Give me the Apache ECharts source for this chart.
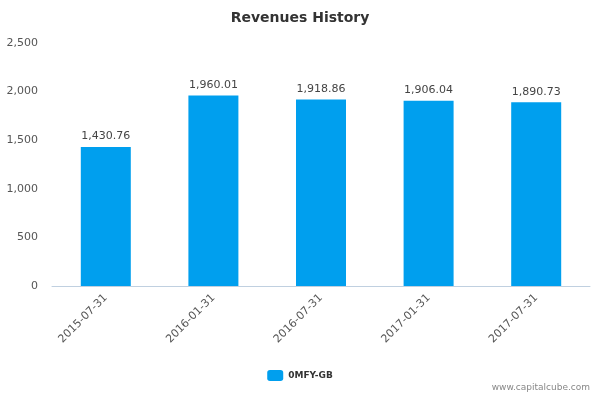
<!DOCTYPE html>
<html>
<head>
<meta charset="UTF-8">
<title>Revenues History</title>
<script src="https://cdn.jsdelivr.net/npm/echarts@6/dist/echarts.min.js"></script>
<style>body{margin:0;background:#fff;}</style>
</head>
<body>
<div id="chart" style="width:600px;height:400px;"></div>
<script>
var categories = ['2015-07-31', '2016-01-31', '2016-07-31', '2017-01-31', '2017-07-31'];
var revenues = [1430.76, 1960.01, 1918.86, 1906.04, 1890.73];
var seriesName = '0MFY-GB';

var myChart = echarts.init(document.getElementById('chart'));
myChart.setOption({
    animation: false,
    title: {
        text: 'Revenues History', left: 'center', top: 6,
        textStyle: { fontFamily: 'DejaVu Sans', fontSize: 14, fontWeight: 'bold', color: '#333' }
    },
    graphic: [{
        type: 'text', right: 10, bottom: 8,
        style: { text: 'www.capitalcube.com', fill: '#888', font: '9px DejaVu Sans' }
    }],
    legend: {
        bottom: 14, left: 'center', itemWidth: 16, itemHeight: 11,
        textStyle: { fontFamily: 'DejaVu Sans', fontSize: 9, fontWeight: 'bold', color: '#333' },
        data: [seriesName]
    },
    grid: { left: 52, right: 10, top: 43, bottom: 114 },
    xAxis: {
        type: 'category', data: categories,
        axisLine: { lineStyle: { color: '#c0d0e0' } },
        axisTick: { alignWithLabel: false, length: 8, lineStyle: { color: '#c0d0e0' } },
        axisLabel: { rotate: 45, color: '#555', fontFamily: 'DejaVu Sans', fontSize: 11, margin: 10 }
    },
    yAxis: {
        type: 'value', min: 0, max: 2500, interval: 500,
        splitLine: { show: false },
        axisLabel: { color: '#555', fontFamily: 'DejaVu Sans', fontSize: 11, margin: 14 }
    },
    series: [{
        name: seriesName, type: 'bar', data: revenues, barWidth: 50,
        itemStyle: { color: '#009fee' },
        label: {
            show: true, position: 'top', color: '#444', fontFamily: 'DejaVu Sans', fontSize: 11,
            formatter: function (p) { return p.value.toLocaleString('en-US', { minimumFractionDigits: 2 }); }
        }
    }]
});
</script>
</body>
</html>
